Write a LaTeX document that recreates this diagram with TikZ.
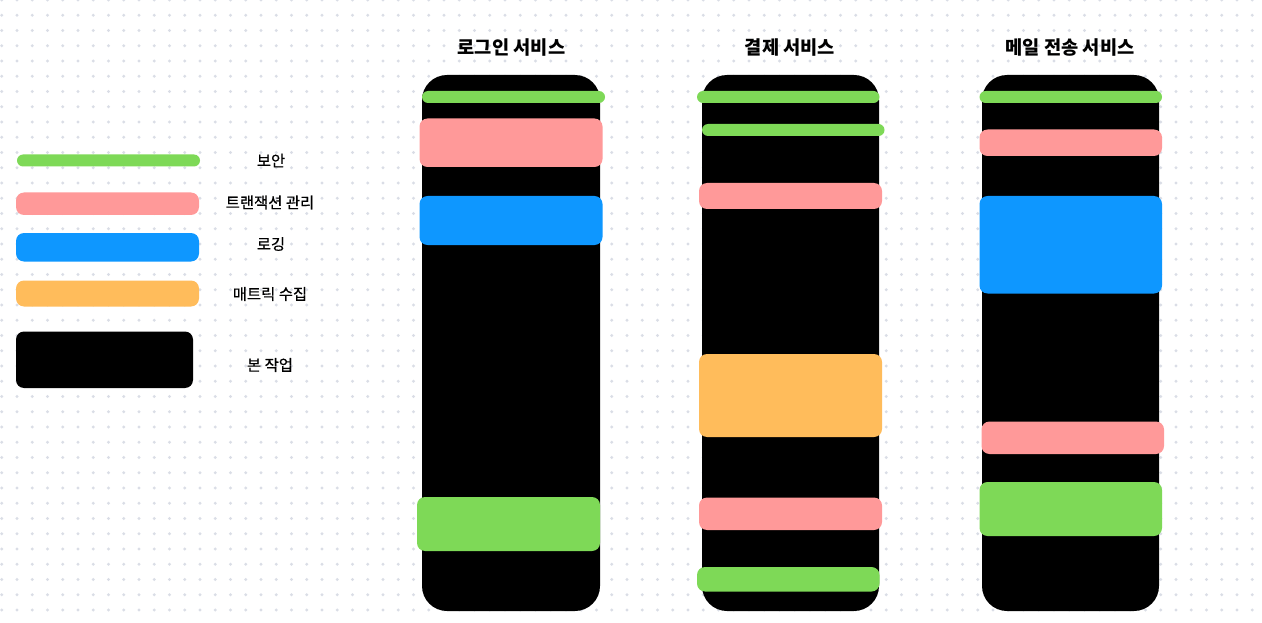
\documentclass[tikz,border=0pt]{standalone}
\usepackage{fontspec}
\newfontfamily\kr{Noto Sans CJK KR}
\newfontfamily\krm[FakeBold=0.6]{Noto Sans CJK KR}
\definecolor{cgreen}{HTML}{7ED957}
\definecolor{cpink}{HTML}{FF9999}
\definecolor{cblue}{HTML}{0E97FF}
\definecolor{corange}{HTML}{FFBC5B}
\definecolor{cdot}{HTML}{DADDE6}
\tikzset{
  thinbar/.style={fill=cgreen, rounded corners=6pt},
  bar/.style={rounded corners=8pt},
  mainwork/.style={fill=black, rounded corners=25pt},
  title/.style={font=\kr\bfseries\fontsize{18.7}{21}\selectfont, anchor=center, inner sep=0pt},
  legendtxt/.style={font=\krm\fontsize{15.4}{18}\selectfont, anchor=center, inner sep=0pt}
}
\begin{document}
\begin{tikzpicture}[x=1pt,y=-1pt]
\useasboundingbox (0,0) rectangle (1262,623);
\fill[white] (0,0) rectangle (1262,623);
% dotted background
\foreach \i in {0,...,82}{
  \foreach \j in {0,...,40}{
    \fill[cdot] ({1.7+15.25*\i},{15.25*\j}) circle (1.6);
  }
}
% legend
\fill[thinbar] (17,154.5) rectangle (200,166.5);
\fill[bar, fill=cpink] (16,192.5) rectangle (199,215);
\fill[bar, fill=cblue] (16,233) rectangle (199,261.5);
\fill[bar, fill=corange] (16,280.5) rectangle (199,306.5);
\fill[bar, fill=black] (16,331.5) rectangle (193,388);
\node[legendtxt] (l1) at (271,160.5) {보안};
\node[legendtxt] (l2) at (270,202.5) {트랜잭션 관리};
\node[legendtxt] (l3) at (271,244) {로깅};
\node[legendtxt] (l4) at (270,294) {매트릭 수집};
\node[legendtxt] (l5) at (270,365) {본 작업};
% titles
\node[title] (t1) at (511.5,48) {로그인 서비스};
\node[title] (t2) at (790,48) {결제 서비스};
\node[title] (t3) at (1070,48) {메일 전송 서비스};
% login column
\fill[mainwork] (422,75) rectangle (600,611);
\fill[thinbar] (422,91) rectangle (605,103);
\fill[bar, fill=cpink] (419.5,118.5) rectangle (602.5,167);
\fill[bar, fill=cblue] (419.5,196) rectangle (602.5,245);
\fill[bar, fill=cgreen] (417,497) rectangle (600,551);
% payment column
\fill[mainwork] (702,75) rectangle (879,611);
\fill[thinbar] (697,91) rectangle (879.5,103);
\fill[thinbar] (702,124) rectangle (884.5,136);
\fill[bar, fill=cpink] (699,183) rectangle (882,209);
\fill[bar, fill=corange] (699,354) rectangle (882,437);
\fill[bar, fill=cpink] (699,497.5) rectangle (882,530);
\fill[bar, fill=cgreen] (697,567) rectangle (879.5,591.5);
% email column
\fill[mainwork] (982,75) rectangle (1159,611);
\fill[thinbar] (979.5,91) rectangle (1162,103);
\fill[bar, fill=cpink] (979.5,129.5) rectangle (1162,156);
\fill[bar, fill=cblue] (979.5,196) rectangle (1162,293.5);
\fill[bar, fill=cpink] (981.5,421.5) rectangle (1164,454);
\fill[bar, fill=cgreen] (979.5,482) rectangle (1162,536);
\end{tikzpicture}
\end{document}
